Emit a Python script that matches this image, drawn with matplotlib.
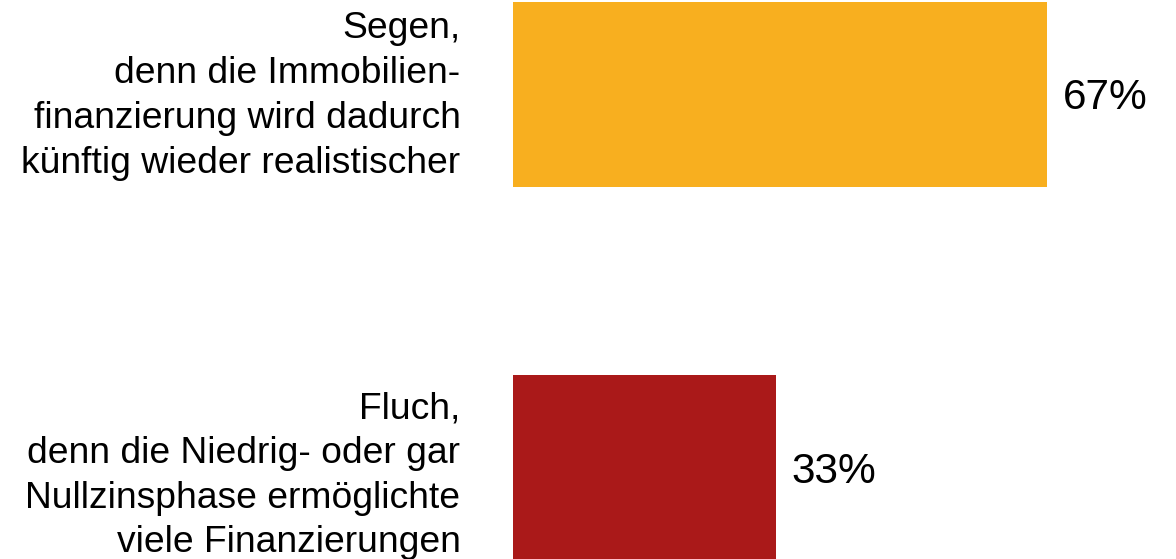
import matplotlib.pyplot as plt

# Data
labels = ['Segen,\ndenn die Immobilien-\nfinanzierung wird dadurch\nkünftig wieder realistischer',
          'Fluch,\ndenn die Niedrig- oder gar\nNullzinsphase ermöglichte\nviele Finanzierungen']
values = [67, 33]
colors = ['#F8AF1F', '#AA1919']

plt.rcParams['font.family'] = ['Liberation Sans', 'DejaVu Sans']

fig = plt.figure(figsize=(11.76, 5.59), dpi=100)
ax = fig.add_axes([513 / 1176, 0, 1 - 513 / 1176, 1])

positions = [0, 1]
ax.barh(positions, values, height=0.495, color=colors)

# small vertical nudges so the text sits like in the original
label_shift = [0.004, 0.022]
value_shift = [0.01, 0.013]

for y, v, dy in zip(positions, values, value_shift):
    ax.text(v + 2, y + dy, f'{v}%', va='center', ha='left', fontsize=30.5, color='#000000')

for y, lab, dy in zip(positions, labels, label_shift):
    ax.text(-6.6, y + dy, lab, va='center', ha='right', fontsize=26.8, color='#000000',
            linespacing=1.36)

ax.set_xlim(0, 83.2)
ax.set_ylim(1.245, -0.2534)
ax.axis('off')

fig.savefig('out.png', dpi=100)
